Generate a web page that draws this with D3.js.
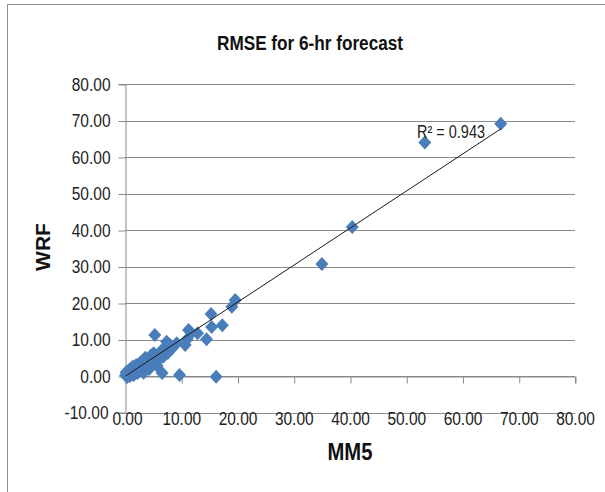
<!DOCTYPE html>
<html><head><meta charset="utf-8">
<script src="https://cdn.jsdelivr.net/npm/d3@7"></script>
<style>
html,body{margin:0;padding:0;background:#fff;}
svg{display:block;}
text{font-family:"Liberation Sans",Arial,sans-serif;}
</style></head>
<body>
<script>
const title = "RMSE for 6-hr forecast";
const xTitle = "MM5";
const yTitle = "WRF";
const r2Label = "R² = 0.943";
const xTicks = [0,10,20,30,40,50,60,70,80];
const yTicks = [-10,0,10,20,30,40,50,60,70,80];
// MM5 RMSE values
const mm5 = [66.8,53.3,40.4,35.0,19.6,19.0,15.3,17.3,15.4,14.5,11.3,11.8,12.9,10.7,11.0,5.3,7.4,7.1,6.8,6.6,9.7,16.2,
  0.1,0.3,0.5,0.2,0.6,0.8,1.0,1.2,1.5,1.4,1.8,2.0,2.2,2.5,2.7,3.0,3.1,3.4,3.6,3.9,4.2,4.3,4.6,4.9,5.1,5.4,5.7,6.0,6.3,6.5,7.6,8.0,8.3,9.2,0.4,0.9,1.6,2.4,3.3];
// WRF RMSE values
const wrf = [69.1,64.0,40.8,30.7,20.8,19.0,17.0,13.9,13.4,10.1,12.6,11.7,11.7,8.5,10.0,11.2,9.4,7.6,5.3,0.8,0.3,-0.2,
  0.2,0.5,0.1,1.0,1.5,0.6,2.0,1.1,0.3,2.6,1.7,3.0,0.8,2.2,3.6,1.5,4.2,2.8,5.0,3.3,4.4,1.9,5.6,3.8,6.2,4.9,2.8,6.0,5.0,7.0,6.3,8.5,7.5,9.0,-0.3,0.0,0.4,1.2,0.9];
// linear trendline as drawn in the reference (start / end values)
const trendX = [0.1, 66.8];
const trendY = [0.0, 67.7];

const W = 605, H = 492;
const svg = d3.select("body").append("svg").attr("width", W).attr("height", H);

function squeeze(sel, f){
  sel.each(function(){
    const w = this.getComputedTextLength();
    d3.select(this).attr("textLength", w*f).attr("lengthAdjust","spacingAndGlyphs");
  });
}
function fitTo(sel, w){
  sel.attr("textLength", w).attr("lengthAdjust","spacingAndGlyphs");
}

// outer chart frame
svg.append("line").attr("x1",7.5).attr("x2",W).attr("y1",4.5).attr("y2",4.5).attr("stroke","#8c8c8c");
svg.append("line").attr("x1",7.5).attr("x2",7.5).attr("y1",4.5).attr("y2",H).attr("stroke","#8c8c8c");

const x = d3.scaleLinear().domain([0,80]).range([125,575]);
const y = d3.scaleLinear().domain([-10,80]).range([412.5,84]);
const fmt = d => d.toFixed(2);

// gridlines
svg.append("g").selectAll("line").data(yTicks).join("line")
  .attr("x1",x(0)).attr("x2",x(80))
  .attr("y1",d=>Math.round(y(d))+0.5).attr("y2",d=>Math.round(y(d))+0.5)
  .attr("stroke","#8a8a8a").attr("stroke-width",1);

// y axis
const yAxis = d3.axisLeft(y).tickValues(yTicks).tickSize(7).tickPadding(8).tickFormat(fmt);
const gy = svg.append("g").attr("transform",`translate(${x(0)+0.5},0)`).call(yAxis);
gy.select(".domain").attr("stroke","#8a8a8a");
gy.selectAll(".tick line").attr("stroke","#8a8a8a").attr("transform","translate(0,0.5)");
const yt = gy.selectAll(".tick text").attr("font-size","18px").attr("fill","#222")
  .attr("font-family","'Liberation Sans',Arial,sans-serif").attr("dy","0.36em");
squeeze(yt, 0.86);
yt.filter(d => d === -10).attr("dx", -2);

// x axis crossing at y = 0
const xAxis = d3.axisBottom(x).tickValues(xTicks).tickSize(7).tickPadding(29).tickFormat(fmt);
const gx = svg.append("g").attr("transform",`translate(0,${Math.round(y(0))+0.5})`).call(xAxis);
gx.select(".domain").attr("stroke","#8a8a8a");
gx.selectAll(".tick line").attr("stroke","#8a8a8a").attr("transform","translate(0.5,0)");
const xt = gx.selectAll(".tick text").attr("font-size","18px").attr("fill","#222")
  .attr("font-family","'Liberation Sans',Arial,sans-serif");
squeeze(xt, 0.86);
xt.filter(d => d === 0).attr("dx", 2);

// points
const pts = mm5.map((v,i)=>({x:v,y:wrf[i]}));
const diamond = "M0,-7L6.5,0L0,7L-6.5,0Z";
svg.append("g").selectAll("path").data(pts).join("path")
  .attr("d",diamond)
  .attr("transform",d=>`translate(${x(d.x)},${y(d.y)})`)
  .attr("fill","#4a7ebb");

// linear trendline
svg.append("line")
  .attr("x1",x(trendX[0])).attr("y1",y(trendY[0]))
  .attr("x2",x(trendX[1])).attr("y2",y(trendY[1]))
  .attr("stroke","#1a1a1a").attr("stroke-width",1);

// R² label
const rt = svg.append("text").attr("x",417).attr("y",138).attr("font-size","18px").attr("fill","#222").text(r2Label);
fitTo(rt, 68);

// titles
const tt = svg.append("text").attr("x",310).attr("y",50).attr("text-anchor","middle")
  .attr("font-size","20px").attr("font-weight","bold").attr("fill","#111").text(title);
fitTo(tt, 186);
const xtt = svg.append("text").attr("x",350).attr("y",460).attr("text-anchor","middle")
  .attr("font-size","23px").attr("font-weight","bold").attr("fill","#111").text(xTitle);
fitTo(xtt, 45);
svg.append("text").attr("transform","translate(50,247) rotate(-90)").attr("text-anchor","middle")
  .attr("font-size","21px").attr("font-weight","bold").attr("fill","#111").text(yTitle);
</script>
</body></html>
